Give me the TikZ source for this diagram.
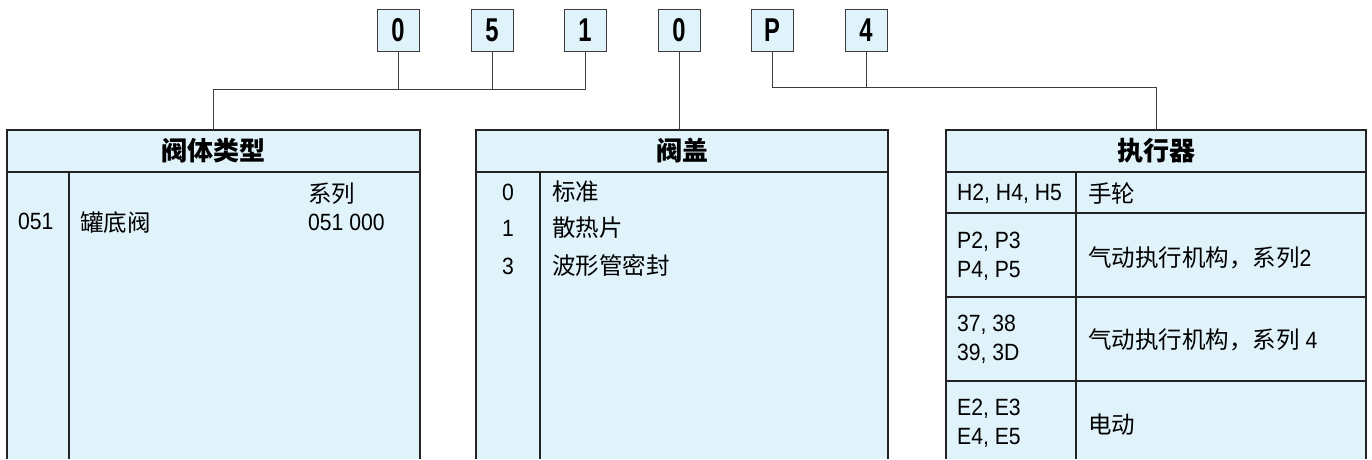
\documentclass[tikz,border=0pt]{standalone}
\usepackage{fontspec}
\setmainfont[FakeStretch=0.9]{Liberation Sans}
\newfontfamily\cjk{Noto Sans CJK SC}
\newfontfamily\codefont[FakeStretch=0.72]{Liberation Sans}
\definecolor{panel}{RGB}{224,242,250}
\definecolor{framegray}{RGB}{35,35,35}
\definecolor{linegray}{RGB}{60,60,60}

\begin{document}
\begin{tikzpicture}[x=1pt,y=-1pt,
  codebox/.style={draw=linegray,fill=panel,line width=1pt,minimum width=42pt,minimum height=42pt,inner sep=0pt,font=\codefont\bfseries\fontsize{33}{33}\selectfont},
  link/.style={draw=linegray,line width=1pt},
  tblframe/.style={draw=framegray,line width=1.6pt},
  tblrule/.style={draw=framegray,line width=1.2pt},
  headcell/.style={minimum height=42pt,inner sep=0pt,font=\cjk\bfseries\fontsize{26}{26}\selectfont},
  txt/.style={inner sep=0pt,align=left,font=\fontsize{23.5}{29}\selectfont}]
  \useasboundingbox (0,0) rectangle (1372,459);
  % Code boxes
  \node[codebox] (d1) at (398,30) {0};
  \node[codebox] (d2) at (492,30) {5};
  \node[codebox] (d3) at (585,30) {1};
  \node[codebox] (d4) at (679,30) {0};
  \node[codebox] (d5) at (772,30) {P};
  \node[codebox] (d6) at (866,30) {4};
  \coordinate (busA) at (0,89);
  \coordinate (busC) at (0,87);
  % Table: body type
  \fill[panel] (7,130) rectangle (420,459);
  \draw[tblframe] (7,459) -- (7,130) -- (420,130) -- (420,459);
  \draw[tblrule] (7,172) -- (420,172);
  \draw[tblrule] (69,172) -- (69,459);
  \node[headcell,minimum width=413pt] (hdrA) at (213.5,151) {阀体类型};
  \node[txt,anchor=west] (codeA) at (18,221) {051};
  \node[txt,anchor=west] (nameA) at (80,223) {\cjk 罐底阀};
  \node[txt,anchor=west] (serA) at (308,194) {\cjk 系列};
  \node[txt,anchor=west] (numA) at (308,222) {051 000};
  % Table: bonnet
  \fill[panel] (476,130) rectangle (888,459);
  \draw[tblframe] (476,459) -- (476,130) -- (888,130) -- (888,459);
  \draw[tblrule] (476,172) -- (888,172);
  \draw[tblrule] (540,172) -- (540,459);
  \node[headcell,minimum width=412pt] (hdrB) at (682,151) {阀盖};
  \node[txt] (codeB0) at (508,192) {0};
  \node[txt] (codeB1) at (508,228) {1};
  \node[txt] (codeB3) at (508,266) {3};
  \node[txt,anchor=west] (nameB0) at (552,192) {\cjk 标准};
  \node[txt,anchor=west] (nameB1) at (552,228) {\cjk 散热片};
  \node[txt,anchor=west] (nameB3) at (552,266) {\cjk 波形管密封};
  % Table: actuator
  \fill[panel] (946,130) rectangle (1366,459);
  \draw[tblframe] (946,459) -- (946,130) -- (1366,130) -- (1366,459);
  \draw[tblrule] (946,172) -- (1366,172);
  \foreach \y in {213,297,381}
    \draw[tblrule] (946,\y) -- (1366,\y);
  \draw[tblrule] (1076,172) -- (1076,459);
  \node[headcell,minimum width=420pt] (hdrC) at (1156,151) {执行器};
  \node[txt,anchor=west] (codeC1) at (957,194) {H2, H4, H5};
  \node[txt,anchor=west] (codeC2) at (957,256.5) {P2, P3\\P4, P5};
  \node[txt,anchor=west] (codeC3) at (957,339) {37, 38\\39, 3D};
  \node[txt,anchor=west] (codeC4) at (957,423.5) {E2, E3\\E4, E5};
  \node[txt,anchor=west] (nameC1) at (1088,194) {\cjk 手轮};
  \node[txt,anchor=west] (nameC2) at (1088,258) {{\cjk 气动执行机构，系列}2};
  \node[txt,anchor=west] (nameC3) at (1088,340) {{\cjk 气动执行机构，系列} 4};
  \node[txt,anchor=west] (nameC4) at (1088,425) {\cjk 电动};
  % Connectors
  \draw[link] (d1.south) -- (d1.south |- busA);
  \draw[link] (d2.south) -- (d2.south |- busA);
  \draw[link] (d3.south) |- (hdrA.north |- busA) -- (hdrA.north);
  \draw[link] (d4.south) -- (d4.south |- hdrB.north);
  \draw[link] (d5.south) |- (hdrC.north |- busC) -- (hdrC.north);
  \draw[link] (d6.south) -- (d6.south |- busC);
\end{tikzpicture}
\end{document}
